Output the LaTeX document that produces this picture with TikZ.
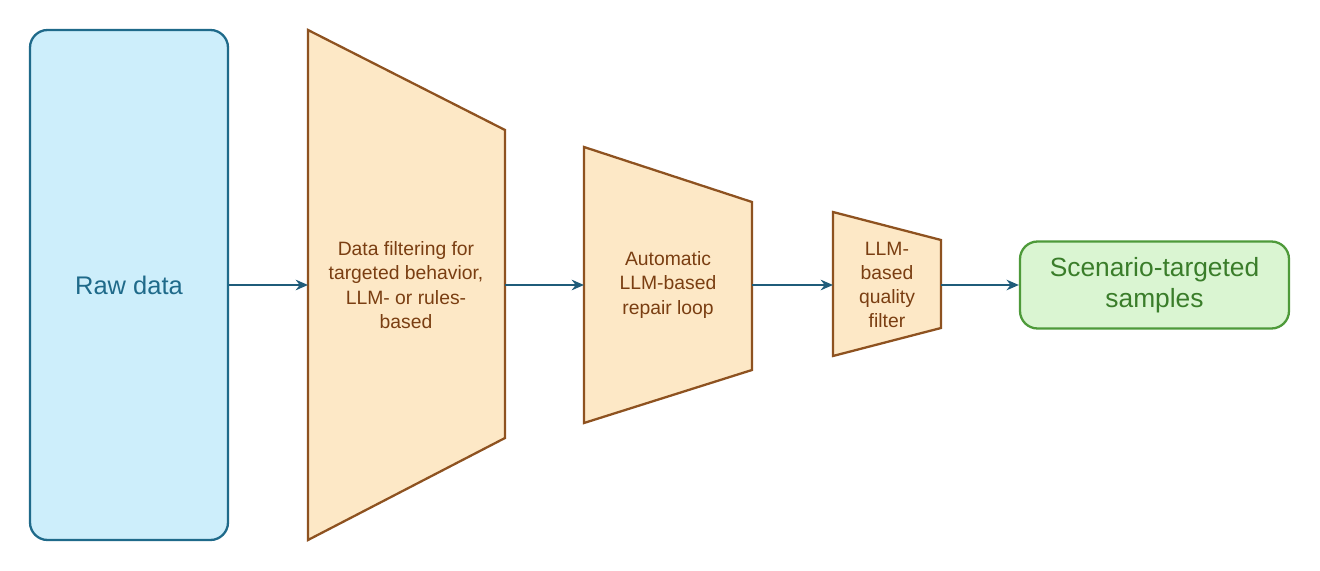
\documentclass[tikz,border=0pt]{standalone}
\usepackage{fontspec}
\setmainfont{Liberation Sans}
\usetikzlibrary{arrows.meta}
\begin{document}
\begin{tikzpicture}[x=0.02cm,y=-0.02cm,
  trap/.style={draw=trapline,fill=trapfill,line width=1.3pt,line join=miter},
  lbl/.style={text=traptext,align=center,font=\fontsize{11}{13.8}\selectfont},
  arr/.style={draw=arrcol,line width=1.3pt,-{Stealth[length=7pt,width=6pt]}}]
\definecolor{trapline}{HTML}{8E5220}
\definecolor{trapfill}{HTML}{FDE8C6}
\definecolor{traptext}{HTML}{7A3E12}
\definecolor{arrcol}{HTML}{1F5C7A}
\definecolor{bluefill}{HTML}{CDEEFB}
\definecolor{blueline}{HTML}{1F6A8A}
\definecolor{greenfill}{HTML}{DAF5D2}
\definecolor{greenline}{HTML}{4E9A3A}
\definecolor{greentext}{HTML}{3A7D2A}
\useasboundingbox (0,0) rectangle (1320,571);
\node[draw=blueline,fill=bluefill,line width=1.3pt,rounded corners=10pt,minimum width=198*0.02cm,
  minimum height=510*0.02cm,text=blueline,font=\fontsize{14.5}{17}\selectfont] (raw) at (129,285) {Raw data};
\draw[trap] (308,30) -- (505,130) -- (505,438) -- (308,540) -- cycle;
\node[lbl] (t1) at (406,285) {Data filtering for\\targeted behavior,\\LLM- or rules-\\based};
\coordinate (l1) at (308,285); \coordinate (r2) at (505,285);
\draw[trap] (584,147) -- (752,202) -- (752,370) -- (584,423) -- cycle;
\node[lbl] (t2) at (668,285) {Automatic\\LLM-based\\repair loop};
\coordinate (l2) at (584,285); \coordinate (r3) at (752,285);
\draw[trap] (833,212) -- (941,240) -- (941,328) -- (833,356) -- cycle;
\node[lbl] (t3) at (887,285) {LLM-\\based\\quality\\filter};
\coordinate (l3) at (833,285); \coordinate (r4) at (941,285);
\node[draw=greenline,fill=greenfill,line width=1.3pt,rounded corners=10pt,minimum width=269*0.02cm,
  minimum height=87*0.02cm,text=greentext,align=center,font=\fontsize{15}{17.5}\selectfont] (out) at (1154.5,285) {Scenario-targeted\\samples};
\draw[arr] (raw.east) -- (l1);
\draw[arr] (r2) -- (l2);
\draw[arr] (r3) -- (l3);
\draw[arr] (r4) -- (out.west);
\end{tikzpicture}
\end{document}
